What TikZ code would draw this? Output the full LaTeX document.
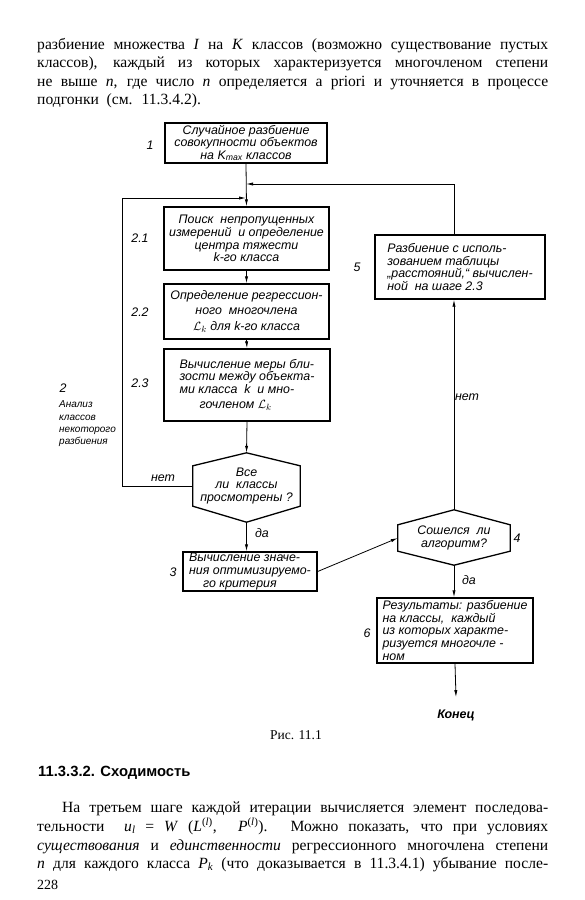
\documentclass[tikz,border=0pt]{standalone}
\usepackage{fontspec}
\setmainfont{Liberation Serif}
\newfontfamily\gost{Liberation Sans}
\newfontfamily\headfont{Liberation Sans}
\usetikzlibrary{arrows.meta}
\newcommand\gostfont{\gost\itshape\fontsize{12.4}{12.6}\selectfont}
\newcommand\smallgost{\gost\itshape\fontsize{10}{12.3}\selectfont}
\begin{document}
\begin{tikzpicture}[x=1pt,y=-1pt,
  boxline/.style={line width=1.3pt, line join=miter},
  box/.style={draw, boxline, inner sep=0pt, font=\gostfont},
  hexin/.style={inner sep=0pt, font=\gostfont, align=center},
  conn/.style={line width=0.8pt},
  arr/.style={conn, -{Latex[length=7pt,width=3.2pt]}},
  lbl/.style={inner sep=0pt, font=\gostfont},
  body/.style={anchor=base west, inner sep=0pt, font=\fontsize{15.6}{18}\selectfont}]
\useasboundingbox (0,0) rectangle (584,900);
\fill[white] (0,0) rectangle (584,900);

% top paragraph
\node[body] (t1) at (37,49) {\hbox to 511pt{разбиение множества \textit{I} на \textit{K} классов (возможно существование пустых}};
\node[body] (t2) at (37,67.5) {\hbox to 511pt{классов), каждый из которых характеризуется многочленом степени}};
\node[body] (t3) at (37,86) {\hbox to 511pt{не выше \textit{n}, где число \textit{n} определяется a priori и уточняется в процессе}};
\node[body] (t4) at (37,104.5) {подгонки \ (см. \ 11.3.4.2).};

% boxes
\node[box, minimum width=162pt, minimum height=40pt, align=center, font=\gost\itshape\fontsize{12.4}{11}\selectfont] (b1) at (246,143)
  {Случайное разбиение\\совокупности объектов\\на K\textsubscript{max} классов};
\node[box, minimum width=165pt, minimum height=63pt, align=center] (b21) at (246.5,238.5)
  {Поиск \ непропущенных\\измерений \ и определение\\центра тяжести\\\textit{k}-го класса};
\node[box, minimum width=165pt, minimum height=55pt, align=center] (b22) at (246.5,311.5)
  {Определение регрессион-\\[2.5pt]ного \ многочлена\\[3pt]$\mathcal{L}_k$ для \textit{k}-го класса};
\node[box, minimum width=166pt, minimum height=72pt, align=left] (b23) at (247,385)
  {Вычисление меры бли-\\зости между объекта-\\ми класса \ \textit{k} \ и мно-\\[2.5pt]\hspace*{20pt}гочленом $\mathcal{L}_k$};
\node[box, minimum width=134pt, minimum height=39pt, align=left] (b3) at (250,571.5)
  {Вычисление значе-\\ния оптимизируемо-\\\hspace*{14pt}го критерия};
\node[box, minimum width=170pt, minimum height=64pt, align=left] (b5) at (460,267)
  {Разбиение с исполь-\\зованием таблицы\\„расстояний,“ вычислен-\\ной \ на шаге 2.3};
\node[box, minimum width=156pt, minimum height=65pt, align=left] (b6) at (455,630.5)
  {Результаты: разбиение\\на классы, \ каждый\\из которых характе-\\ризуется многочле -\\ном};

% hexagon 1
\node[hexin, minimum width=107pt, minimum height=40pt] (h1) at (246.5,486)
  {Все\\ли \ классы\\просмотрены ?};
\coordinate (h1top) at ([yshift=13pt]h1.north);
\coordinate (h1bot) at ([yshift=-16pt]h1.south);
\draw[boxline] (h1.north west) -- (h1top) -- (h1.north east) -- (h1.south east) -- (h1bot) -- (h1.south west) -- cycle;

% hexagon 4
\node[hexin, minimum width=112pt, minimum height=26pt] (h4) at (454,538)
  {Сошелся \ ли\\алгоритм?};
\coordinate (h4top) at ([yshift=15pt]h4.north);
\coordinate (h4bot) at ([yshift=-14pt]h4.south);
\draw[boxline] (h4.north west) -- (h4top) -- (h4.north east) -- (h4.south east) -- (h4bot) -- (h4.south west) -- cycle;

% end
\node[inner sep=0pt, font=\gost\bfseries\itshape\fontsize{12.5}{14}\selectfont, anchor=base] (end) at (456,718) {Конец};

% junction coordinates
\coordinate (j1) at (246,184);
\coordinate (j2) at (246,198);
\coordinate (lc) at (122,198);

% connectors
\draw[arr] (b1.south) -- (b21.north);
\draw[arr] (b21.south) -- (b22.north);
\draw[arr] (b22.south) -- (b23.north);
\draw[arr] (b23.south) -- (h1top);
\draw[arr] (h1bot) -- (h1bot |- b3.north);
\draw[arr] (h1.west) -| (lc) -- (j2);
\draw[arr] (h4top |- b5.north) |- (j1);
\draw[arr] (h4top) -- (h4top |- b5.south);
\draw[arr] (b3.east) -- (h4.west);
\draw[arr] (h4bot) -- (h4bot |- b6.north);
\draw[arr] (b6.south) -- ([yshift=12pt]end.north);

% labels
\node[lbl] (l1) at (150,145) {1};
\node[lbl] (l21) at (140,238) {2.1};
\node[lbl] (l22) at (140,312) {2.2};
\node[lbl] (l23) at (140,383) {2.3};
\node[lbl] (l2) at (63,388) {2};
\node[inner sep=0pt, font=\smallgost, align=left, anchor=west] (l2t) at (59,424) {Анализ\\классов\\некоторого\\разбиения};
\node[lbl] (l3) at (173,572) {3};
\node[lbl] (l4) at (517,538) {4};
\node[lbl] (l5) at (357,267) {5};
\node[lbl] (l6) at (367,633) {6};
\node[lbl] (no1) at (163,478) {нет};
\node[lbl] (yes1) at (262,533) {да};
\node[lbl] (no2) at (467,397) {нет};
\node[lbl] (yes2) at (469,580) {да};

% caption and bottom text
\node[inner sep=0pt, anchor=base, font=\fontsize{13.5}{15}\selectfont] (cap) at (296,739) {Рис. 11.1};
\node[inner sep=0pt, anchor=base west, font=\headfont\bfseries\fontsize{14.8}{16}\selectfont] (head) at (38,776) {11.3.3.2. Сходимость};
\node[body] (p1) at (62,812) {\hbox to 486pt{На третьем шаге каждой итерации вычисляется элемент последова-}};
\node[body] (p2) at (37,831) {\hbox to 511pt{тельности \ \textit{u}\textsubscript{\textit{l}} = \textit{W} (\textit{L}\textsuperscript{(\textit{l})}, \ \textit{P}\textsuperscript{(\textit{l})}). Можно показать, что при условиях}};
\node[body] (p3) at (37,850) {\hbox to 511pt{\textit{существования} и \textit{единственности} регрессионного многочлена степени}};
\node[body] (p4) at (37,868) {\hbox to 511pt{\textit{n} для каждого класса \textit{P}\textsubscript{\textit{k}} (что доказывается в 11.3.4.1) убывание после-}};
\node[inner sep=0pt, anchor=base west, font=\fontsize{14}{16}\selectfont] (pg) at (37,889) {228};
\end{tikzpicture}
\end{document}
